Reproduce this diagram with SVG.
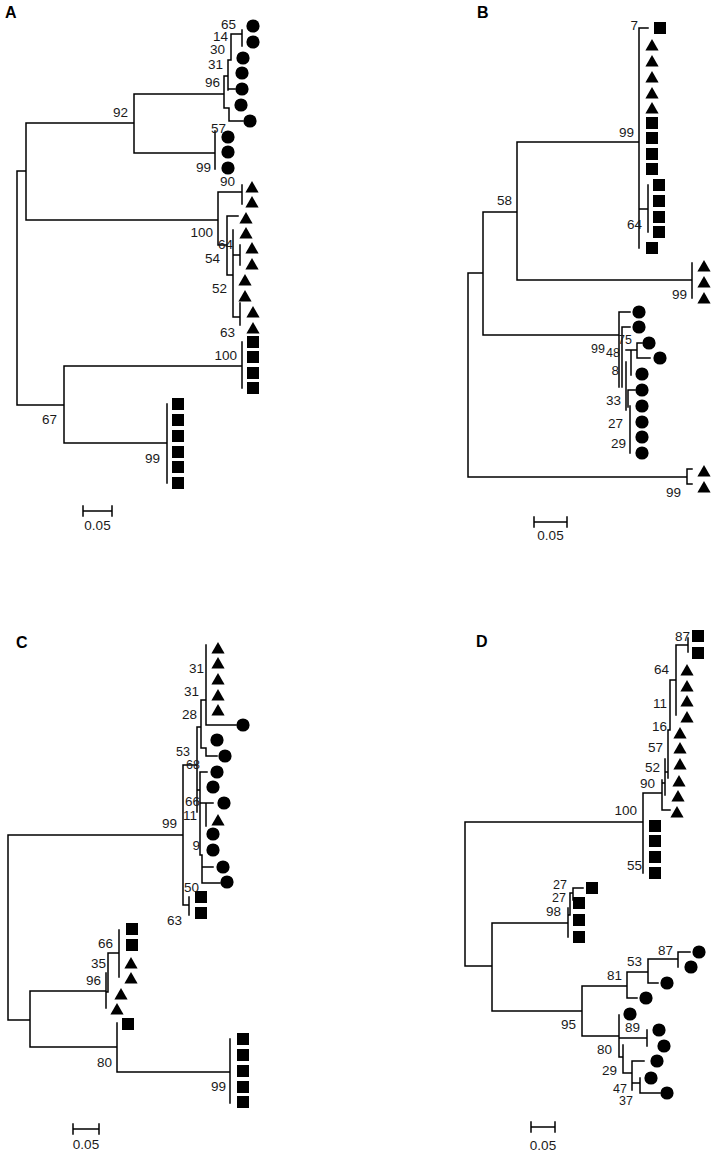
<svg xmlns="http://www.w3.org/2000/svg" xmlns:xlink="http://www.w3.org/1999/xlink" width="714" height="1153" viewBox="0 0 714 1153">
<style>
.br{fill:none;stroke:#000;stroke-width:1.5;stroke-linecap:square}
.lb{font-family:"Liberation Sans",Arial,sans-serif;font-size:13.5px;fill:#1a1a1a;text-anchor:end}
.sm{font-size:12.5px}
.sc{font-family:"Liberation Sans",Arial,sans-serif;font-size:13.5px;fill:#1a1a1a;text-anchor:middle}
.pl{font-family:"Liberation Sans",Arial,sans-serif;font-size:16px;font-weight:bold;fill:#000}
</style>
<defs>
<circle id="ci" r="6.6" fill="#000"/>
<rect id="sq" x="-6" y="-6" width="12" height="12" fill="#000"/>
<path id="tr" d="M0,-6 L6.6,5.5 L-6.6,5.5 Z" fill="#000"/>
</defs>
<rect width="714" height="1153" fill="#fff"/>

<g id="connectors">
<path class="br" d="M17,171V405 M17,171H26 M26,123V220 M26,123H134 M134,94V153 M134,94H224 M134,153H215 M215,131V169
M224,76V108 M224,76H228 M228,60V90 M228,60H231 M231,34V60 M231,34H242 M242,30V46 M228,89H235 M224,108H229 M229,108V121 M229,121H243
M26,220H218 M218,192V245 M218,192H242 M242,185V204 M218,245H227 M227,216V275 M227,216H238 M227,275H233 M233,230V317 M233,255H240 M240,245V265 M233,317H240 M240,303V325
M17,405H64 M64,366V443 M64,366H242 M242,342V388 M64,443H167 M167,404V483
M83,511H112 M83,506V516 M112,506V516"/>
<path class="br" d="M468,273V477 M468,273H483 M483,212V335 M483,212H517 M517,142V280 M517,142H639 M639,28V248 M639,28H648 M639,209H648 M648,185V232
M517,280H692 M692,263V298
M483,335H619 M619,312V387 M619,312H630 M622,327H630 M622,327V387 M626,350H631 M631,350V375 M631,350H637 M637,343V358 M637,358H650 M637,343H642
M626,362V410 M628,390V407 M628,390H635 M630,406V453
M468,477H687 M687,469V484 M687,469H692 M687,484H692
M534,522H567 M534,517V527 M567,517V527"/>
<path class="br" d="M8,835V1020 M8,835H183 M183,765V905 M183,905H189 M189,897V915
M183,765H197 M197,727V812 M197,727H201 M201,700V748 M201,700H206 M206,645V725 M206,725H236 M201,748H206 M206,748V756 M206,756H217
M197,790H200 M200,772V855 M200,772H207 M200,803H206 M206,803V826 M206,803H213 M200,855H202 M202,855V883 M202,883H220 M202,867H213
M8,1020H30 M30,991V1047 M30,991H106 M106,973V1008 M106,992H108 M108,953V992 M108,953H119 M119,930V977
M30,1047H117 M117,1023V1072 M117,1072H230 M230,1039V1103
M73,1129H99 M73,1124V1134 M99,1124V1134"/>
<path class="br" d="M465,822V966 M465,822H643 M643,793V873 M643,793H662 M662,780V810 M662,810H670 M662,783H665 M665,759V795 M665,772H668 M668,730V778 M668,730H670 M670,680V730 M670,680H676 M676,645V715 M676,645H688 M688,638V652
M465,966H492 M492,923V1011 M492,923H568 M568,908V937 M568,915H570 M570,893V915 M570,893H573 M573,888V900 M573,888H583
M492,1011H582 M582,986V1036 M582,986H627 M627,972V998 M627,998H637 M627,972H648 M648,959V983 M648,983H658 M648,959H678 M678,952V967 M678,952H690
M582,1036H619 M619,1015V1057 M619,1038H647 M647,1030V1046 M619,1057H623 M623,1045V1073 M623,1073H632 M632,1061V1090 M632,1061H644 M632,1083H640 M640,1078V1093 M640,1093H660
M531,1127H555 M531,1122V1132 M555,1122V1132"/>
</g>

<g id="panel-labels">
<text class="pl" x="5" y="18">A</text>
<text class="pl" x="477" y="18">B</text>
<text class="pl" x="16" y="648">C</text>
<text class="pl" x="476" y="647">D</text>
</g>

<g id="A-tips">
<g id="A1"><use href="#ci" x="253" y="26"/></g>
<g id="A2"><use href="#ci" x="253" y="42"/></g>
<g id="A3"><use href="#ci" x="243" y="58"/></g>
<g id="A4"><use href="#ci" x="242" y="73"/></g>
<g id="A5"><use href="#ci" x="242" y="89"/></g>
<g id="A6"><use href="#ci" x="241" y="105"/></g>
<g id="A7"><use href="#ci" x="250" y="121"/></g>
<g id="A8"><use href="#ci" x="228" y="137"/></g>
<g id="A9"><use href="#ci" x="228" y="152"/></g>
<g id="A10"><use href="#ci" x="228" y="168"/></g>
<g id="A11"><use href="#tr" x="252" y="187"/></g>
<g id="A12"><use href="#tr" x="252" y="202"/></g>
<g id="A13"><use href="#tr" x="246" y="218"/></g>
<g id="A14"><use href="#tr" x="246" y="233"/></g>
<g id="A15"><use href="#tr" x="252" y="248"/></g>
<g id="A16"><use href="#tr" x="252" y="264"/></g>
<g id="A17"><use href="#tr" x="245" y="280"/></g>
<g id="A18"><use href="#tr" x="245" y="296"/></g>
<g id="A19"><use href="#tr" x="253" y="312"/></g>
<g id="A20"><use href="#tr" x="253" y="328"/></g>
<g id="A21"><use href="#sq" x="253" y="342"/></g>
<g id="A22"><use href="#sq" x="253" y="357"/></g>
<g id="A23"><use href="#sq" x="253" y="373"/></g>
<g id="A24"><use href="#sq" x="253" y="388"/></g>
<g id="A25"><use href="#sq" x="178" y="404"/></g>
<g id="A26"><use href="#sq" x="178" y="420"/></g>
<g id="A27"><use href="#sq" x="178" y="436"/></g>
<g id="A28"><use href="#sq" x="178" y="452"/></g>
<g id="A29"><use href="#sq" x="178" y="467"/></g>
<g id="A30"><use href="#sq" x="178" y="483"/></g>
</g>

<g id="B-tips">
<g id="B1"><use href="#sq" x="660" y="28"/></g>
<g id="B2"><use href="#tr" x="652" y="45"/></g>
<g id="B3"><use href="#tr" x="652" y="61"/></g>
<g id="B4"><use href="#tr" x="652" y="77"/></g>
<g id="B5"><use href="#tr" x="652" y="93"/></g>
<g id="B6"><use href="#tr" x="652" y="108"/></g>
<g id="B7"><use href="#sq" x="652" y="123"/></g>
<g id="B8"><use href="#sq" x="652" y="138"/></g>
<g id="B9"><use href="#sq" x="652" y="154"/></g>
<g id="B10"><use href="#sq" x="652" y="169"/></g>
<g id="B11"><use href="#sq" x="659" y="185"/></g>
<g id="B12"><use href="#sq" x="659" y="201"/></g>
<g id="B13"><use href="#sq" x="659" y="217"/></g>
<g id="B14"><use href="#sq" x="659" y="232"/></g>
<g id="B15"><use href="#sq" x="652" y="248"/></g>
<g id="B16"><use href="#tr" x="704" y="266"/></g>
<g id="B17"><use href="#tr" x="704" y="282"/></g>
<g id="B18"><use href="#tr" x="704" y="298"/></g>
<g id="B19"><use href="#ci" x="639" y="312"/></g>
<g id="B20"><use href="#ci" x="639" y="327"/></g>
<g id="B21"><use href="#ci" x="649" y="343"/></g>
<g id="B22"><use href="#ci" x="660" y="358"/></g>
<g id="B23"><use href="#ci" x="642" y="374"/></g>
<g id="B24"><use href="#ci" x="642" y="390"/></g>
<g id="B25"><use href="#ci" x="642" y="406"/></g>
<g id="B26"><use href="#ci" x="642" y="422"/></g>
<g id="B27"><use href="#ci" x="642" y="437"/></g>
<g id="B28"><use href="#ci" x="642" y="453"/></g>
<g id="B29"><use href="#tr" x="704" y="471"/></g>
<g id="B30"><use href="#tr" x="704" y="487"/></g>
</g>

<g id="C-tips">
<g id="C1"><use href="#tr" x="218" y="648"/></g>
<g id="C2"><use href="#tr" x="218" y="663"/></g>
<g id="C3"><use href="#tr" x="218" y="679"/></g>
<g id="C4"><use href="#tr" x="218" y="695"/></g>
<g id="C5"><use href="#tr" x="218" y="710"/></g>
<g id="C6"><use href="#ci" x="243" y="725"/></g>
<g id="C7"><use href="#ci" x="217" y="740"/></g>
<g id="C8"><use href="#ci" x="225" y="756"/></g>
<g id="C9"><use href="#ci" x="217" y="772"/></g>
<g id="C10"><use href="#ci" x="213" y="787"/></g>
<g id="C11"><use href="#ci" x="224" y="803"/></g>
<g id="C12"><use href="#tr" x="218" y="820"/></g>
<g id="C13"><use href="#ci" x="213" y="834"/></g>
<g id="C14"><use href="#ci" x="213" y="850"/></g>
<g id="C15"><use href="#ci" x="223" y="867"/></g>
<g id="C16"><use href="#ci" x="227" y="882"/></g>
<g id="C17"><use href="#sq" x="201" y="897"/></g>
<g id="C18"><use href="#sq" x="201" y="913"/></g>
<g id="C19"><use href="#sq" x="132" y="929"/></g>
<g id="C20"><use href="#sq" x="132" y="945"/></g>
<g id="C21"><use href="#tr" x="131" y="963"/></g>
<g id="C22"><use href="#tr" x="131" y="978"/></g>
<g id="C23"><use href="#tr" x="121" y="994"/></g>
<g id="C24"><use href="#tr" x="117" y="1009"/></g>
<g id="C25"><use href="#sq" x="128" y="1024"/></g>
<g id="C26"><use href="#sq" x="243" y="1039"/></g>
<g id="C27"><use href="#sq" x="243" y="1055"/></g>
<g id="C28"><use href="#sq" x="243" y="1071"/></g>
<g id="C29"><use href="#sq" x="243" y="1087"/></g>
<g id="C30"><use href="#sq" x="243" y="1102"/></g>
</g>

<g id="D-tips">
<g id="D1"><use href="#sq" x="698" y="636"/></g>
<g id="D2"><use href="#sq" x="698" y="653"/></g>
<g id="D3"><use href="#tr" x="687" y="670"/></g>
<g id="D4"><use href="#tr" x="687" y="686"/></g>
<g id="D5"><use href="#tr" x="687" y="701"/></g>
<g id="D6"><use href="#tr" x="687" y="717"/></g>
<g id="D7"><use href="#tr" x="680" y="733"/></g>
<g id="D8"><use href="#tr" x="680" y="748"/></g>
<g id="D9"><use href="#tr" x="680" y="764"/></g>
<g id="D10"><use href="#tr" x="679" y="781"/></g>
<g id="D11"><use href="#tr" x="678" y="796"/></g>
<g id="D12"><use href="#tr" x="677" y="812"/></g>
<g id="D13"><use href="#sq" x="655" y="826"/></g>
<g id="D14"><use href="#sq" x="655" y="841"/></g>
<g id="D15"><use href="#sq" x="655" y="857"/></g>
<g id="D16"><use href="#sq" x="655" y="873"/></g>
<g id="D17"><use href="#sq" x="592" y="888"/></g>
<g id="D18"><use href="#sq" x="579" y="903"/></g>
<g id="D19"><use href="#sq" x="579" y="920"/></g>
<g id="D20"><use href="#sq" x="579" y="937"/></g>
<g id="D21"><use href="#ci" x="699" y="952"/></g>
<g id="D22"><use href="#ci" x="691" y="967"/></g>
<g id="D23"><use href="#ci" x="667" y="983"/></g>
<g id="D24"><use href="#ci" x="646" y="998"/></g>
<g id="D25"><use href="#ci" x="630" y="1014"/></g>
<g id="D26"><use href="#ci" x="659" y="1030"/></g>
<g id="D27"><use href="#ci" x="664" y="1046"/></g>
<g id="D28"><use href="#ci" x="657" y="1061"/></g>
<g id="D29"><use href="#ci" x="651" y="1078"/></g>
<g id="D30"><use href="#ci" x="667" y="1093"/></g>
</g>

<g id="labels">
<text class="lb" x="128" y="117">92</text>
<text class="lb" x="236" y="29">65</text>
<text class="lb" x="228" y="41">14</text>
<text class="lb" x="225" y="54">30</text>
<text class="lb" x="223" y="69">31</text>
<text class="lb" x="220" y="87">96</text>
<text class="lb" x="226" y="133">57</text>
<text class="lb" x="211" y="172">99</text>
<text class="lb" x="235" y="186">90</text>
<text class="lb" x="213" y="237">100</text>
<text class="lb" x="233" y="249">64</text>
<text class="lb" x="220" y="263">54</text>
<text class="lb" x="227" y="293">52</text>
<text class="lb" x="235" y="337">63</text>
<text class="lb" x="237" y="360">100</text>
<text class="lb" x="57" y="424">67</text>
<text class="lb" x="160" y="463">99</text>
<text class="sc" x="97.5" y="530">0.05</text>

<text class="lb" x="638" y="30">7</text>
<text class="lb" x="634" y="137">99</text>
<text class="lb" x="642" y="229">64</text>
<text class="lb" x="512" y="205">58</text>
<text class="lb" x="687" y="299">99</text>
<text class="lb sm" x="632" y="344">75</text>
<text class="lb sm" x="605" y="353">99</text>
<text class="lb sm" x="620" y="357">48</text>
<text class="lb" x="619" y="375">8</text>
<text class="lb" x="621" y="405">33</text>
<text class="lb" x="623" y="428">27</text>
<text class="lb" x="626" y="448">29</text>
<text class="lb" x="681" y="497">99</text>
<text class="sc" x="550.5" y="540">0.05</text>

<text class="lb" x="204" y="673">31</text>
<text class="lb" x="199" y="696">31</text>
<text class="lb" x="197" y="719">28</text>
<text class="lb sm" x="190" y="756">53</text>
<text class="lb sm" x="200" y="769">68</text>
<text class="lb" x="200" y="806">66</text>
<text class="lb" x="197" y="820">11</text>
<text class="lb" x="200" y="850">9</text>
<text class="lb" x="177" y="828">99</text>
<text class="lb" x="199" y="892">50</text>
<text class="lb" x="182" y="925">63</text>
<text class="lb" x="113" y="948">66</text>
<text class="lb" x="106" y="968">35</text>
<text class="lb" x="101" y="985">96</text>
<text class="lb" x="112" y="1067">80</text>
<text class="lb" x="226" y="1091">99</text>
<text class="sc" x="86" y="1149">0.05</text>

<text class="lb" x="690" y="641">87</text>
<text class="lb" x="669" y="674">64</text>
<text class="lb" x="667" y="708">11</text>
<text class="lb" x="667" y="731">16</text>
<text class="lb" x="663" y="752">57</text>
<text class="lb" x="660" y="772">52</text>
<text class="lb" x="655" y="788">90</text>
<text class="lb" x="637" y="815">100</text>
<text class="lb" x="642" y="870">55</text>
<text class="lb sm" x="567" y="889">27</text>
<text class="lb sm" x="566" y="902">27</text>
<text class="lb" x="561" y="916">98</text>
<text class="lb" x="673" y="955">87</text>
<text class="lb" x="642" y="966">53</text>
<text class="lb" x="622" y="980">81</text>
<text class="lb" x="576" y="1029">95</text>
<text class="lb" x="640" y="1032">89</text>
<text class="lb" x="612" y="1054">80</text>
<text class="lb" x="617" y="1075">29</text>
<text class="lb sm" x="627" y="1093">47</text>
<text class="lb sm" x="633" y="1105">37</text>
<text class="sc" x="543" y="1150">0.05</text>
</g>
</svg>
